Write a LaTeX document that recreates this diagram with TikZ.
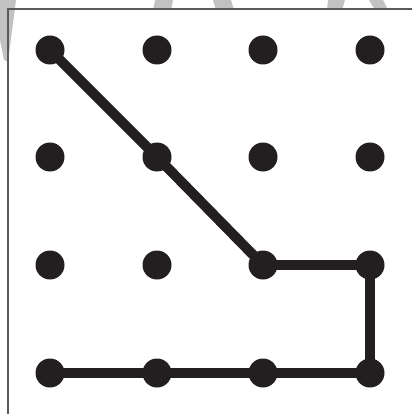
\documentclass[tikz,border=0pt]{standalone}
\begin{document}
\begin{tikzpicture}[x=1pt,y=-1pt,
  dot/.style={circle,fill=dotc,minimum size=29pt,inner sep=0pt},
  conn/.style={draw=dotc,line width=10pt},
  frame/.style={draw=framec,line width=2pt},
  wmark/.style={fill=wmc,draw=none}]
\definecolor{dotc}{HTML}{231F20}
\definecolor{framec}{HTML}{5A5A5A}
\definecolor{wmc}{HTML}{C2C2C2}
\useasboundingbox (0,0) rectangle (412,414);
\fill[white] (0,0) rectangle (412,414);
% watermark fragments
\fill[wmc] (0,0) -- (16,0) -- (8,62) -- (4,60) -- (0,40) -- cycle;
\fill[wmc] (155,0) -- (173,0) -- (171,10) -- (153,10) -- cycle;
\fill[wmc] (213,0) -- (231,0) -- (234,10) -- (216,10) -- cycle;
\fill[wmc] (328,0) -- (345,0) -- (342,10) -- (327,10) -- cycle;
\fill[wmc] (369,0) -- (383,0) -- (388,10) -- (375,10) -- cycle;
% frame
\draw[frame] (412,9) -- (8,9) -- (8,414);
% dots
\foreach \c/\x in {1/50,2/157,3/263,4/370}{
  \foreach \r/\y in {1/50,2/157,3/265,4/373}{
    \node[dot] (d\r\c) at (\x,\y) {};
  }
}
% path
\draw[conn] (d11.center) -- (d22.center);
\draw[conn] (d22.center) -- (d33.center);
\draw[conn] (d33.center) -- (d34.center);
\draw[conn] (d34.center) -- (d44.center);
\draw[conn] (d44.center) -- (d43.center);
\draw[conn] (d43.center) -- (d42.center);
\draw[conn] (d42.center) -- (d41.center);
\end{tikzpicture}
\end{document}
